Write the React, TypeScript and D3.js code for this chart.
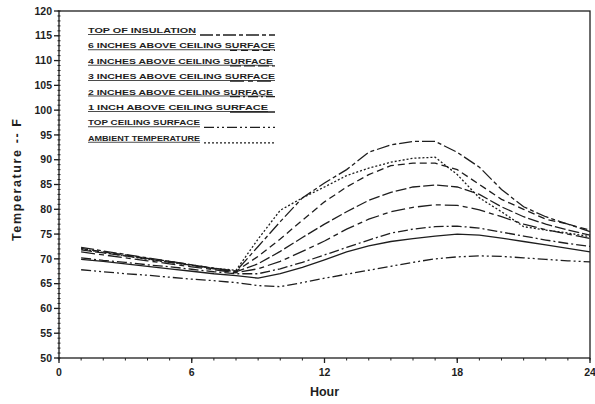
import React from "react";
import * as d3 from "d3";

const hours = [1,2,3,4,5,6,7,8,9,10,11,12,13,14,15,16,17,18,19,20,21,22,23,24];

const topInsulation = [72.3,71.6,70.9,70.2,69.5,68.8,68.1,67.5,72.5,77.5,82.3,85.3,88.0,91.5,93.0,93.7,93.7,91.5,88.5,84.0,80.5,78.5,77.0,75.5];
const sixInches = [72.1,71.4,70.8,70.1,69.5,68.8,68.1,67.5,70.5,74.0,77.8,81.5,84.5,87.0,88.8,89.3,89.3,88.0,85.0,82.0,80.0,78.0,77.0,75.8];
const fourInches = [71.8,71.2,70.6,70.0,69.3,68.7,68.0,67.4,69.0,71.5,74.3,77.0,79.5,81.8,83.4,84.5,84.9,84.5,83.0,80.5,78.5,77.0,75.8,74.8];
const threeInches = [71.4,70.8,70.2,69.6,69.0,68.4,67.8,67.2,68.0,69.5,71.5,73.6,76.0,78.0,79.5,80.4,80.9,80.8,79.9,78.5,77.0,75.9,75.0,74.1];
const twoInches = [70.2,69.7,69.3,68.8,68.4,67.9,67.4,67.0,67.0,68.0,69.3,70.8,72.3,73.8,75.2,76.0,76.5,76.6,76.2,75.4,74.6,73.8,73.1,72.5];
const oneInch = [69.9,69.5,69.0,68.5,68.0,67.5,67.0,66.6,66.1,67.0,68.3,69.8,71.4,72.6,73.5,74.1,74.6,75.0,74.8,74.2,73.5,72.8,72.1,71.4];
const topCeiling = [67.8,67.4,67.0,66.7,66.3,65.9,65.6,65.2,64.6,64.4,65.2,66.1,66.9,67.7,68.5,69.3,70.0,70.4,70.6,70.5,70.2,69.9,69.6,69.4];
const ambient = [72.0,71.3,70.6,69.9,69.3,68.7,68.1,67.7,74.0,79.8,82.3,84.5,86.8,88.3,89.5,90.3,90.5,87.0,82.3,79.5,76.5,75.8,75.2,74.5];

const seriesNames = [
  "TOP OF INSULATION",
  "6 INCHES ABOVE CEILING SURFACE",
  "4 INCHES ABOVE CEILING SURFACE",
  "3 INCHES ABOVE CEILING SURFACE",
  "2 INCHES ABOVE CEILING SURFACE",
  "1 INCH ABOVE CEILING SURFACE",
  "TOP CEILING SURFACE",
  "AMBIENT TEMPERATURE",
];
const seriesValues = [topInsulation, sixInches, fourInches, threeInches, twoInches, oneInch, topCeiling, ambient];
const dashes = ["13,3,4,3", "7,4", "11,3", "14,4,5,4", "10,3,2,3", "none", "10,3,2,3,2,3", "2,2"];

const yTicks = [50,55,60,65,70,75,80,85,90,95,100,105,110,115,120];
const xTicks = [0,6,12,18,24];

const W = 595, H = 404;
const x = d3.scaleLinear().domain([0, 24]).range([59, 590]);
const y = d3.scaleLinear().domain([50, 120]).range([358, 11]);

const ink = "#1e1e1e";
const font = "'Liberation Sans', Arial, sans-serif";

export default function App() {
  const line = d3.line<number>().x((_, i) => x(hours[i])).y((v) => y(v));
  const minorY = d3.range(50, 121, 1);
  const minorX = d3.range(0, 25, 1);
  const legendX = 88;
  const legendRight = 275;
  const legendY0 = 33;
  const legendStep = 15.4;
  const textWidths = [108, 187, 185, 187, 185, 180, 112, 112];
  return (
    <div style={{ position: "absolute", left: 0, top: 0 }}>
      <svg width={W} height={H} style={{ display: "block", background: "#fff" }}>
        <rect x={x(0)} y={y(120)} width={x(24) - x(0)} height={y(50) - y(120)} fill="none" stroke={ink} strokeWidth={1.3} />
        {minorY.map((t) => (
          <line key={"my" + t} x1={x(0) - 1.5} x2={x(0) + 1.5} y1={y(t)} y2={y(t)} stroke={ink} strokeWidth={1} />
        ))}
        {yTicks.map((t) => (
          <g key={"y" + t}>
            <line x1={x(0) - 5} x2={x(0)} y1={y(t)} y2={y(t)} stroke={ink} strokeWidth={1.3} />
            <text x={x(0) - 7} y={y(t)} dy="0.35em" textAnchor="end" fontFamily={font} fontWeight="bold" fontSize={10.5} fill={ink}>{t}</text>
          </g>
        ))}
        {minorX.map((t) => (
          <line key={"mx" + t} x1={x(t)} x2={x(t)} y1={y(50)} y2={y(50) + 2.5} stroke={ink} strokeWidth={1} />
        ))}
        {xTicks.map((t) => (
          <g key={"x" + t}>
            <line x1={x(t)} x2={x(t)} y1={y(50)} y2={y(50) + 5} stroke={ink} strokeWidth={1.3} />
            <text x={x(t)} y={y(50) + 18} textAnchor="middle" fontFamily={font} fontWeight="bold" fontSize={10.5} fill={ink}>{t}</text>
          </g>
        ))}
        <text x={(x(0) + x(24)) / 2} y={396} textAnchor="middle" fontFamily={font} fontWeight="bold" fontSize={12.5} fill={ink}>Hour</text>
        <text transform={`translate(21,180) rotate(-90)`} textAnchor="middle" fontFamily={font} fontWeight="bold" fontSize={12.5} fill={ink}
          textLength={122} lengthAdjust="spacing">Temperature -- F</text>
        {seriesValues.map((vals, i) => (
          <path key={"s" + i} d={line(vals) || ""} fill="none" stroke={ink} strokeWidth={1.3}
            strokeDasharray={dashes[i] === "none" ? undefined : dashes[i]} />
        ))}
        {seriesNames.map((name, i) => {
          const ly = legendY0 + i * legendStep;
          return (
            <g key={"l" + i}>
              <text x={legendX} y={ly} fontFamily={font} fontWeight="bold" fontSize={8} fill={ink}
                textDecoration="underline" textLength={textWidths[i]} lengthAdjust="spacingAndGlyphs">{name}</text>
              <line x1={Math.min(legendX + textWidths[i] + 4, legendRight - 45)} x2={legendRight} y1={ly + 2} y2={ly + 2}
                stroke={ink} strokeWidth={1.3} strokeDasharray={dashes[i] === "none" ? undefined : dashes[i]} />
            </g>
          );
        })}
      </svg>
    </div>
  );
}
